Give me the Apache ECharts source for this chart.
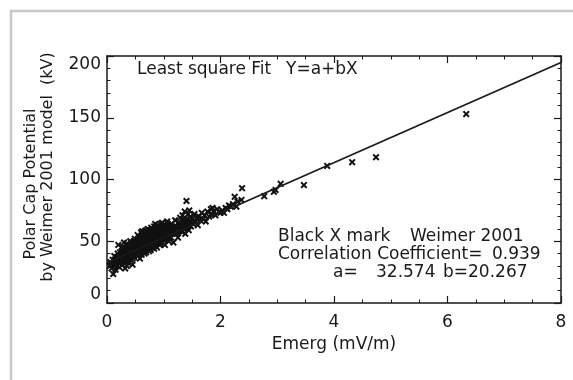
<!DOCTYPE html>
<html>
<head>
<meta charset="utf-8">
<title>Emerg vs Weimer 2001</title>
<script src="https://cdn.jsdelivr.net/npm/echarts@6/dist/echarts.min.js"></script>
</head>
<body style="margin:0;background:#fff">
<div id="main" style="width:573px;height:380px;"></div>
<script type="text/javascript">
// Emerg (mV/m) against polar cap potential from the Weimer 2001 model (kV)
var emergX = [
    0.05, 0.06, 0.08, 0.10, 0.11, 0.12, 0.13, 0.15, 0.16, 0.18, 0.19, 0.20, 0.21, 0.22, 0.24,
    0.25, 0.26, 0.27, 0.28, 0.29, 0.30, 0.31, 0.32, 0.33, 0.34, 0.35, 0.36, 0.37, 0.38, 0.39,
    0.40, 0.41, 0.42, 0.43, 0.44, 0.45, 0.46, 0.47, 0.48, 0.49, 0.50, 0.30, 0.35, 0.40, 0.45,
    0.28, 0.38, 0.48, 0.43, 0.33,
    0.14, 0.17, 0.23, 0.26, 0.29, 0.31, 0.34, 0.36, 0.39, 0.41, 0.44, 0.46, 0.47, 0.49, 0.27,
    0.32, 0.37, 0.42, 0.20, 0.24,
    0.51, 0.52, 0.53, 0.54, 0.55, 0.56, 0.57, 0.58, 0.59, 0.60, 0.61, 0.62, 0.63, 0.64, 0.65,
    0.66, 0.67, 0.68, 0.69, 0.70, 0.71, 0.72, 0.73, 0.74, 0.75, 0.76, 0.77, 0.78, 0.79, 0.80,
    0.55, 0.58, 0.62, 0.66, 0.70, 0.74, 0.78, 0.53, 0.57, 0.61, 0.65, 0.69, 0.73, 0.77, 0.80,
    0.52, 0.54, 0.56, 0.59, 0.60, 0.63, 0.64, 0.67, 0.68, 0.71, 0.72, 0.75, 0.76, 0.79, 0.60,
    0.67, 0.72, 0.56, 0.63, 0.75,
    0.81, 0.82, 0.83, 0.84, 0.85, 0.86, 0.87, 0.88, 0.89, 0.90, 0.91, 0.92, 0.93, 0.94, 0.95,
    0.96, 0.97, 0.98, 0.99, 1.00, 1.01, 1.02, 1.03, 1.04, 1.05, 1.06, 1.07, 1.08, 1.09, 1.10,
    0.85, 0.90, 0.95, 1.00, 1.05, 0.83, 0.93, 1.03, 0.88, 0.98,
    0.82, 0.84, 0.86, 0.87, 0.89, 0.91, 0.92, 0.94, 0.96, 0.97, 0.99, 1.01, 1.02, 1.04, 1.06,
    1.08, 1.09, 0.87, 0.95, 1.07,
    1.11, 1.13, 1.14, 1.16, 1.17, 1.19, 1.20, 1.22, 1.23, 1.25, 1.26, 1.28, 1.29, 1.31, 1.32,
    1.33, 1.35, 1.36, 1.38, 1.39, 1.40, 1.42, 1.43, 1.44, 1.46, 1.47, 1.48, 1.50, 1.45, 1.37,
    1.12, 1.15, 1.18, 1.21, 1.24, 1.27, 1.30, 1.34, 1.37, 1.41, 1.44, 1.49, 1.15, 1.27, 1.35,
    1.52, 1.54, 1.56, 1.58, 1.60, 1.62, 1.64, 1.67, 1.69, 1.72, 1.74, 1.77, 1.80, 1.83, 1.85,
    1.88, 1.91, 1.94, 1.97, 2.00, 1.86,
    2.03, 2.06, 2.09, 2.12, 2.15, 2.18, 2.22, 2.25, 2.28, 2.30, 2.37, 2.38,
    1.40, 2.77, 2.94, 2.97, 3.06, 3.47, 3.88, 4.32, 4.74, 6.33
];
var weimerY = [
    30, 33, 28, 35, 23.5, 31, 38, 27, 34, 30, 40, 47, 36, 29, 33,
    38, 42, 31, 36, 45, 34, 40, 28, 43, 37, 48, 33, 41, 46, 36,
    39, 50, 35, 44, 40, 31, 47, 42, 37, 52, 45, 49, 30, 43, 36,
    40, 33, 48, 38, 35,
    32, 37, 41, 35, 38, 44, 41, 45, 42, 38, 46, 39, 50, 41, 45,
    38, 36, 47, 33, 37,
    40, 49, 43, 55, 38, 46, 51, 42, 48, 53, 39, 45, 56, 50, 44,
    58, 47, 52, 41, 55, 49, 60, 45, 53, 50, 57, 43, 61, 48, 54,
    52, 36, 58, 40, 46, 42, 51, 47, 44, 50, 54, 59, 49, 55, 45,
    44, 48, 41, 52, 47, 43, 54, 50, 45, 53, 48, 46, 52, 57, 57,
    55, 56, 50, 47, 59,
    58, 50, 62, 47, 55, 60, 52, 45, 57, 63, 49, 56, 53, 61, 48,
    58, 65, 54, 51, 60, 56, 47, 63, 58, 52, 66, 55, 60, 50, 62,
    64, 54, 59, 53, 61, 44, 47, 55, 59, 62,
    55, 52, 57, 48, 53, 58, 51, 55, 52, 57, 59, 52, 59, 54, 57,
    53, 58, 62, 64, 64,
    57, 53, 64, 59, 49, 62, 67, 56, 60, 53, 65, 61, 69, 58, 63,
    71, 60, 66, 56, 63, 68, 62, 72, 59, 66, 70, 62, 68, 75, 74,
    60, 56, 58, 61, 57, 63, 60, 65, 61, 65, 66, 65, 62, 58, 68,
    64, 72, 66, 69, 63, 70, 67, 73, 68, 71, 66, 74, 70, 76, 72,
    74, 71, 76, 74, 73, 77,
    75, 73, 77, 76, 79, 78, 80, 86, 78, 82, 83.5, 93,
    82.6, 86.5, 90, 91.5, 96.5, 95.5, 111, 114, 118, 153
];
// least square fit Y = a + bX, end points at the axis limits
var fitX = [0, 8];
var fitY = [32.574, 194.71];
var xRange = [0, 8, 2];
var yRange = [0, 200, 50];

var points = emergX.map(function (x, i) { return [x, weimerY[i]]; });
var fitLine = fitX.map(function (x, i) { return [x, fitY[i]]; });

var ink = '#1a1a1a';
var font = 'DejaVu Sans';
var txt = '17px ' + font;
var crossMark = 'path://M0,2L2,0L5,3L8,0L10,2L7,5L10,8L8,10L5,7L2,10L0,8L3,5Z';

function frameAxis(extra) {
    var base = {
        min: 0,
        axisLine: {show: true, onZero: false, lineStyle: {color: ink, width: 1.5}},
        axisTick: {show: true, inside: true, length: 7, lineStyle: {color: ink, width: 1.2}},
        splitLine: {show: false},
        minorSplitLine: {show: false},
        axisLabel: {show: false}
    };
    return Object.assign(base, extra);
}

var myChart = echarts.init(document.getElementById('main'));

var option = {
    animation: false,
    backgroundColor: '#fff',
    textStyle: {fontFamily: font, color: ink},
    grid: {left: 107, top: 56, width: 454, height: 247},
    xAxis: [
        frameAxis({
            type: 'value', position: 'bottom', max: xRange[1], interval: xRange[2],
            minorTick: {show: true, splitNumber: 4, length: 3.5, lineStyle: {color: ink, width: 1}},
            axisLabel: {show: true, margin: 11, fontSize: 17, fontFamily: font, color: ink},
            name: 'Emerg (mV/m)', nameLocation: 'middle', nameGap: 32,
            nameTextStyle: {fontSize: 17, fontFamily: font, color: ink}
        }),
        frameAxis({
            type: 'value', position: 'top', max: xRange[1], interval: xRange[2],
            minorTick: {show: true, splitNumber: 4, length: 3.5, lineStyle: {color: ink, width: 1}}
        })
    ],
    yAxis: [
        frameAxis({
            type: 'value', position: 'left', max: yRange[1], interval: yRange[2],
            minorTick: {show: true, splitNumber: 5, length: 3.5, lineStyle: {color: ink, width: 1}},
            axisLabel: {
                show: true, margin: 6, fontSize: 17, fontFamily: font, color: ink,
                verticalAlignMinLabel: 'bottom', verticalAlignMaxLabel: 'top'
            }
        }),
        frameAxis({
            type: 'value', position: 'right', max: yRange[1], interval: yRange[2],
            minorTick: {show: true, splitNumber: 5, length: 3.5, lineStyle: {color: ink, width: 1}}
        })
    ],
    graphic: [
        {type: 'rect', silent: true, shape: {x: 11, y: 11, width: 700, height: 500},
            style: {fill: 'none', stroke: '#c8c8c8', lineWidth: 2.5}},
        {type: 'text', x: 31, y: 184, rotation: Math.PI / 2,
            style: {text: 'Polar Cap Potential', font: '16px ' + font, fill: ink, align: 'center', verticalAlign: 'middle'}},
        {type: 'text', x: 48, y: 167, rotation: Math.PI / 2,
            style: {text: 'by Weimer 2001 model  (kV)', font: '16px ' + font, fill: ink, align: 'center', verticalAlign: 'middle'}},
        {type: 'text', x: 137, y: 70,
            style: {text: 'Least square Fit', font: txt, fill: ink, verticalAlign: 'middle'}},
        {type: 'text', x: 286, y: 70,
            style: {text: 'Y=a+bX', font: txt, fill: ink, verticalAlign: 'middle'}},
        {type: 'text', x: 278, y: 237,
            style: {text: 'Black X mark', font: txt, fill: ink, verticalAlign: 'middle'}},
        {type: 'text', x: 410, y: 237,
            style: {text: 'Weimer 2001', font: txt, fill: ink, verticalAlign: 'middle'}},
        {type: 'text', x: 278, y: 255,
            style: {text: 'Correlation Coefficient=', font: txt, fill: ink, verticalAlign: 'middle'}},
        {type: 'text', x: 492, y: 255,
            style: {text: '0.939', font: txt, fill: ink, verticalAlign: 'middle'}},
        {type: 'text', x: 333, y: 273,
            style: {text: 'a=', font: txt, fill: ink, verticalAlign: 'middle'}},
        {type: 'text', x: 376, y: 273,
            style: {text: '32.574', font: txt, fill: ink, verticalAlign: 'middle'}},
        {type: 'text', x: 443, y: 273,
            style: {text: 'b=20.267', font: txt, fill: ink, verticalAlign: 'middle'}}
    ],
    series: [
        {
            type: 'scatter',
            data: points,
            symbol: crossMark,
            symbolSize: 7,
            itemStyle: {color: '#111', opacity: 1}
        },
        {
            type: 'line',
            data: fitLine,
            showSymbol: false,
            lineStyle: {color: ink, width: 1.8}
        }
    ]
};

myChart.setOption(option);
</script>
</body>
</html>
